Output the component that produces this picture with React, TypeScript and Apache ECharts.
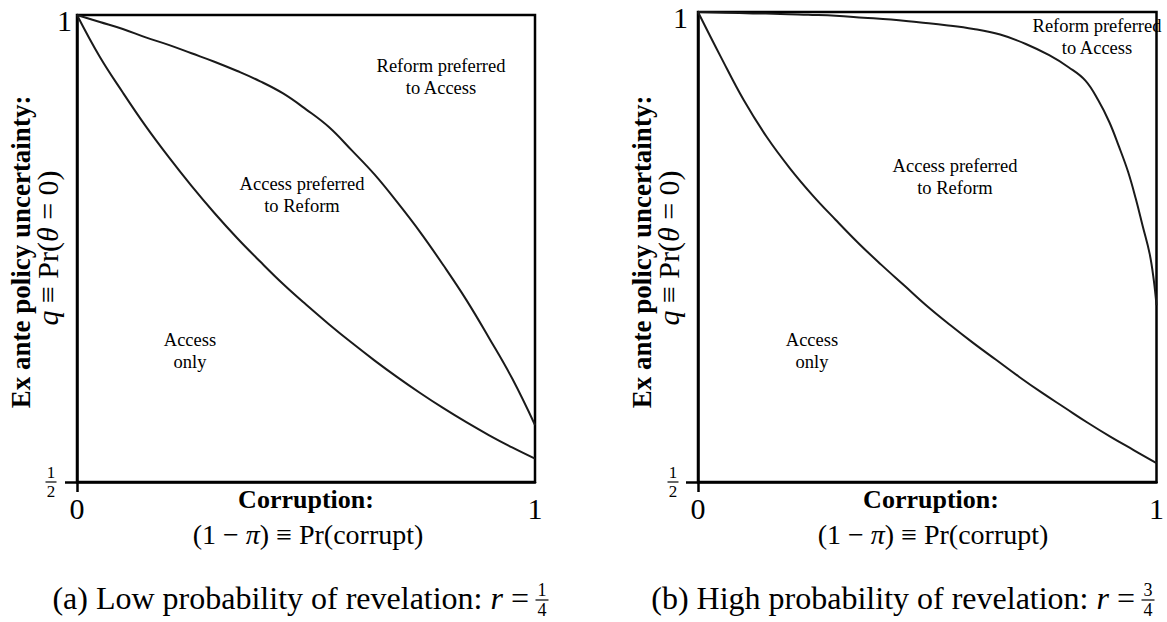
import React, { useEffect, useRef } from "react";
import * as echarts from "echarts";

const FONT = '"Liberation Serif", "Times New Roman", serif';

// Axis ticks and labels
const xTickValues = [0, 1];
const xTickLabels = ["0", "1"];
const yTopLabel = "1";
const yHalfNum = "1";
const yHalfDen = "2";

// Panel (a): r = 1/4  (x every 0.05)
const gridX = [0, 0.05, 0.1, 0.15, 0.2, 0.25, 0.3, 0.35, 0.4, 0.45, 0.5, 0.55, 0.6, 0.65, 0.7, 0.75, 0.8, 0.85, 0.9, 0.95, 1];
const lowerA_y = [1, 0.955, 0.917, 0.881, 0.848, 0.817, 0.788, 0.761, 0.736, 0.712, 0.69, 0.669, 0.649, 0.63, 0.612, 0.595, 0.579, 0.564, 0.55, 0.537, 0.525];
const upperA_y = [1, 0.9925, 0.985, 0.976, 0.968, 0.959, 0.95, 0.94, 0.929, 0.916, 0.899, 0.88, 0.855, 0.829, 0.799, 0.767, 0.732, 0.695, 0.654, 0.611, 0.561];

// Panel (b): r = 3/4
const lowerB_y = [1, 0.952, 0.906, 0.867, 0.834, 0.805, 0.779, 0.754, 0.731, 0.709, 0.687, 0.667, 0.648, 0.63, 0.612, 0.595, 0.579, 0.563, 0.548, 0.534, 0.52];
const upperB_x = [0, 0.06, 0.12, 0.18, 0.24, 0.3, 0.361, 0.421, 0.481, 0.541, 0.601, 0.659, 0.715, 0.766, 0.809, 0.845, 0.873, 0.897, 0.918, 0.938, 0.955, 0.97, 0.985, 0.994, 1];
const upperB_y = [1, 0.9993, 0.9985, 0.998, 0.997, 0.996, 0.994, 0.992, 0.989, 0.986, 0.982, 0.976, 0.966, 0.954, 0.941, 0.927, 0.906, 0.883, 0.857, 0.83, 0.801, 0.772, 0.743, 0.715, 0.688];

// Texts
const yAxisTitle = "Ex ante policy uncertainty:";
const xAxisTitle = "Corruption:";
const regionReform = "Reform preferred\nto Access";
const regionAccessPref = "Access preferred\nto Reform";
const regionAccessOnly = "Access\nonly";
const captions = ["(a) Low probability of revelation: ", "(b) High probability of revelation: "];
const captionNums = ["1", "3"];
const captionDen = "4";

const zip = (xs: number[], ys: number[]) => xs.map((x, i) => [x, ys[i]]);

const panels = [
  { left: 77, top: 15, width: 458, height: 467 },
  { left: 698, top: 12, width: 466, height: 470 },
];

const curveStyle = { color: "#1a1a1a", width: 2 };

function frac(cx: number, cy: number, num: string, den: string, fs: number, barW: number) {
  const off = fs * 0.55;
  const ts = { fontSize: fs, fontFamily: FONT, fill: "#000", align: "center", verticalAlign: "middle", lineHeight: fs };
  return {
    type: "group",
    x: cx,
    y: cy,
    children: [
      { type: "text", x: 0, y: -off, style: { text: num, ...ts } },
      { type: "line", shape: { x1: -barW / 2, y1: 0, x2: barW / 2, y2: 0 }, style: { stroke: "#000", lineWidth: 1.2 } },
      { type: "text", x: 0, y: off, style: { text: den, ...ts } },
    ],
  };
}

function label(x: number, y: number, text: string, fs: number) {
  return {
    type: "text",
    x,
    y,
    style: { text, fontSize: fs, fontFamily: FONT, fill: "#000", align: "center", verticalAlign: "middle", lineHeight: 22 },
  };
}

function mathRich(fs: number) {
  return {
    n: { fontSize: fs, fontFamily: FONT, fill: "#000" },
    i: { fontSize: fs, fontFamily: FONT, fontStyle: "italic", fill: "#000" },
  };
}

export default function App() {
  const ref = useRef<HTMLDivElement>(null);
  useEffect(() => {
    if (!ref.current) return;
    const chart = echarts.init(ref.current, undefined, { renderer: "svg" });

    const graphic: any[] = [];
    const regionPos = [
      { reform: [441, 77], pref: [302, 195], only: [190, 351] },
      { reform: [1097, 37], pref: [955, 177], only: [812, 351] },
    ];
    panels.forEach((p, i) => {
      const bottom = p.top + p.height;
      const cx = p.left + p.width / 2;
      // y axis titles
      graphic.push({
        type: "text",
        x: p.left - 56,
        y: 252,
        rotation: Math.PI / 2,
        style: { text: yAxisTitle, fontSize: 27, fontWeight: "bold", fontFamily: FONT, fill: "#000", align: "center", verticalAlign: "middle" },
      });
      graphic.push({
        type: "text",
        x: p.left - 30,
        y: 248,
        rotation: Math.PI / 2,
        style: {
          text: "{i|q}{n| \u2261 Pr(}{i|\u03b8}{n| = 0)}",
          fontFamily: FONT,
          fill: "#000",
          align: "center",
          verticalAlign: "middle",
          rich: mathRich(30),
        },
      });
      // y tick labels
      graphic.push({
        type: "text",
        x: p.left - (i === 0 ? 5 : 10),
        y: p.top + 5,
        style: { text: yTopLabel, fontSize: 30, fontFamily: FONT, fill: "#000", align: "right", verticalAlign: "middle" },
      });
      graphic.push(frac(p.left - (i === 0 ? 26 : 25), bottom, yHalfNum, yHalfDen, 17, 11));
      // x title & formula
      graphic.push({
        type: "text",
        x: cx,
        y: bottom + 17,
        style: { text: xAxisTitle, fontSize: 26, fontWeight: "bold", fontFamily: FONT, fill: "#000", align: "center", verticalAlign: "middle" },
      });
      graphic.push({
        type: "text",
        x: cx + 2,
        y: bottom + 52,
        style: {
          text: "{n|(1 \u2212 }{i|\u03c0}{n|) \u2261 Pr(corrupt)}",
          fontFamily: FONT,
          fill: "#000",
          align: "center",
          verticalAlign: "middle",
          rich: mathRich(28),
        },
      });
      // region labels
      const rp = regionPos[i];
      graphic.push(label(rp.reform[0], rp.reform[1], regionReform, 18.5));
      graphic.push(label(rp.pref[0], rp.pref[1], regionAccessPref, 18.5));
      graphic.push(label(rp.only[0], rp.only[1], regionAccessOnly, 18.5));
      // caption
      const capRight = i === 0 ? 529 : 1135;
      graphic.push({
        type: "text",
        x: capRight,
        y: 598,
        style: {
          text: "{n|" + captions[i] + "}{i|r}{n| =}",
          fontFamily: FONT,
          fill: "#000",
          align: "right",
          verticalAlign: "middle",
          rich: mathRich(32),
        },
      });
      graphic.push(frac(capRight + 13, 600, captionNums[i], captionDen, 18, 13));
    });

    const option: any = {
      animation: false,
      backgroundColor: "#fff",
      grid: panels.map((p) => ({
        left: p.left,
        top: p.top,
        width: p.width,
        height: p.height,
        show: true,
        borderColor: "#000",
        borderWidth: 2.5,
        backgroundColor: "transparent",
      })),
      xAxis: panels.map((_, i) => ({
        type: "value",
        gridIndex: i,
        min: 0,
        max: 1,
        axisLine: { show: true, onZero: false, lineStyle: { color: "#000", width: 2.5 } },
        axisTick: { show: true, customValues: [0], length: 10, lineStyle: { color: "#000", width: 2.5 } },
        axisLabel: {
          show: true,
          customValues: xTickValues,
          formatter: (v: number) => xTickLabels[xTickValues.indexOf(v)] ?? "",
          fontSize: 30,
          fontFamily: FONT,
          color: "#000",
          margin: 11,
        },
        splitLine: { show: false },
      })),
      yAxis: panels.map((_, i) => ({
        type: "value",
        gridIndex: i,
        min: 0.5,
        max: 1,
        axisLine: { show: true, onZero: false, lineStyle: { color: "#000", width: 2.5 } },
        axisTick: { show: true, customValues: [0.5], length: 12, lineStyle: { color: "#000", width: 2.5 } },
        axisLabel: { show: false },
        splitLine: { show: false },
      })),
      series: [
        { data: zip(gridX, lowerA_y), idx: 0 },
        { data: zip(gridX, upperA_y), idx: 0 },
        { data: zip(gridX, lowerB_y), idx: 1 },
        { data: zip(upperB_x, upperB_y), idx: 1 },
      ].map((s) => ({
        type: "line",
        xAxisIndex: s.idx,
        yAxisIndex: s.idx,
        data: s.data,
        showSymbol: false,
        smooth: 0.4,
        silent: true,
        lineStyle: curveStyle,
      })),
      graphic,
    };
    chart.setOption(option);
    return () => chart.dispose();
  }, []);
  return (
    <div
      ref={ref}
      style={{ position: "fixed", left: 0, top: 0, width: 1167, height: 622, background: "#fff" }}
    />
  );
}
